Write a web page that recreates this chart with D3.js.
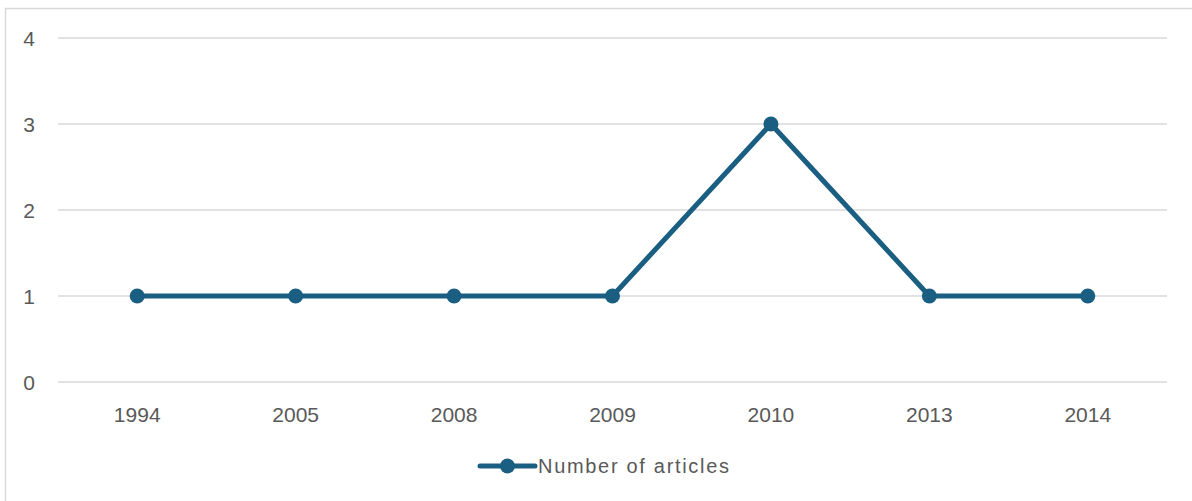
<!DOCTYPE html>
<html>
<head>
<meta charset="utf-8">
<script src="https://cdn.jsdelivr.net/npm/d3@7"></script>
<style>
  html, body { margin: 0; padding: 0; background: #fff; }
  svg { display: block; }
  text { font-family: "Liberation Sans", Arial, sans-serif; fill: #595959; }
</style>
</head>
<body>
<svg id="chart" width="1192" height="501"></svg>
<script>
// Publication years and article counts
const years = ["1994", "2005", "2008", "2009", "2010", "2013", "2014"];
const articles = [1, 1, 1, 1, 3, 1, 1];
const yTicks = [0, 1, 2, 3, 4];
const seriesName = "Number of articles";

const W = 1192, H = 501;
const margin = { left: 58, right: 25, top: 38, bottom: 119 };
const lineColor = "#1a5e82";

const svg = d3.select("#chart");

// Outer chart frame
svg.append("rect")
  .attr("x", 5.5).attr("y", 8.5)
  .attr("width", W + 10).attr("height", H + 10)
  .attr("fill", "#fff").attr("stroke", "#d9d9d9").attr("stroke-width", 1.5);

const x = d3.scaleBand()
  .domain(years)
  .range([margin.left, W - margin.right]);

const y = d3.scaleLinear()
  .domain([0, 4])
  .range([H - margin.bottom, margin.top]);

// Horizontal gridlines
svg.append("g")
  .selectAll("line")
  .data(yTicks)
  .join("line")
  .attr("x1", margin.left).attr("x2", W - margin.right)
  .attr("y1", d => y(d)).attr("y2", d => y(d))
  .attr("stroke", "#d9d9d9").attr("stroke-width", 1.5);

// Y tick labels
svg.append("g")
  .selectAll("text")
  .data(yTicks)
  .join("text")
  .attr("x", 29).attr("y", d => y(d))
  .attr("dy", "0.36em")
  .attr("text-anchor", "middle")
  .attr("font-size", 21)
  .text(d => d);

// X category labels
svg.append("g")
  .selectAll("text")
  .data(years)
  .join("text")
  .attr("x", d => x(d) + x.bandwidth() / 2)
  .attr("y", y(0) + 40)
  .attr("text-anchor", "middle")
  .attr("font-size", 21)
  .text(d => d);

const pts = years.map((yr, i) => ({ yr, v: articles[i] }));

const line = d3.line()
  .x(d => x(d.yr) + x.bandwidth() / 2)
  .y(d => y(d.v));

svg.append("path")
  .datum(pts)
  .attr("d", line)
  .attr("fill", "none")
  .attr("stroke", lineColor)
  .attr("stroke-width", 5)
  .attr("stroke-linejoin", "round")
  .attr("stroke-linecap", "round");

svg.append("g")
  .selectAll("circle")
  .data(pts)
  .join("circle")
  .attr("cx", d => x(d.yr) + x.bandwidth() / 2)
  .attr("cy", d => y(d.v))
  .attr("r", 7.5)
  .attr("fill", lineColor);

// Legend
const lg = svg.append("g").attr("transform", "translate(480,466)");
lg.append("line")
  .attr("x1", 0).attr("x2", 55).attr("y1", 0).attr("y2", 0)
  .attr("stroke", lineColor).attr("stroke-width", 5)
  .attr("stroke-linecap", "round");
lg.append("circle").attr("cx", 27.5).attr("cy", 0).attr("r", 7.5).attr("fill", lineColor);
lg.append("text")
  .attr("x", 58).attr("y", 0).attr("dy", "0.36em")
  .attr("font-size", 20)
  .attr("textLength", 191)
  .attr("lengthAdjust", "spacing")
  .text(seriesName);
</script>
</body>
</html>
